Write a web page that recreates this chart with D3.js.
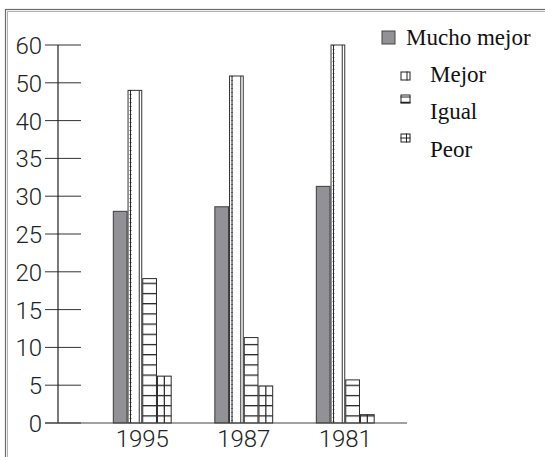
<!DOCTYPE html>
<html>
<head>
<meta charset="utf-8">
<script src="https://cdn.jsdelivr.net/npm/d3@7"></script>
<style>
  body { margin: 0; background: #fff; }
  .tick-lbl { font-family: Roboto, "Liberation Sans", sans-serif; font-weight: 300; font-size: 24px; fill: #222; }
  .leg { font-family: "Liberation Serif", serif; font-size: 23px; fill: #111; }
</style>
</head>
<body>
<div id="chart"></div>
<script>
// values (y axis is not linear: 0..40 by 5, then 50, 60)
var years = ["1995", "1987", "1981"];
var series = ["Mucho mejor", "Mejor", "Igual", "Peor"];
var muchoMejor = [28, 28.6, 31.3];
var mejor = [48, 51.8, 60];
var igual = [19.1, 11.3, 5.7];
var peor = [6.2, 4.9, 1.1];
var yTicks = [0, 5, 10, 15, 20, 25, 30, 35, 40, 50, 60];

var W = 545, H = 457;
var axisX = 58;

var svg = d3.select("#chart").append("svg")
    .attr("width", W).attr("height", H);

var defs = svg.append("defs");

// y scale: every tick value gets the same slot
var yBottom = 423, yTop = 45;
var y = d3.scaleLinear()
    .domain(yTicks)
    .range(yTicks.map(function(d, i) { return yBottom - i * (yBottom - yTop) / (yTicks.length - 1); }));

var x0 = d3.scaleBand().domain(years).range([91.5, 396]).paddingInner(0.42).paddingOuter(0.21);
var x1 = d3.scaleBand().domain(series).range([0, x0.bandwidth()]);

var rows = years.map(function(yr, i) {
  return {year: yr, vals: [muchoMejor[i], mejor[i], igual[i], peor[i]]};
});

// horizontal line hatch, lined up with the baseline
var step = 10.2;
var hp = defs.append("pattern").attr("id", "hlines")
    .attr("patternUnits", "userSpaceOnUse")
    .attr("width", 20).attr("height", step)
    .attr("y", y(0) - 7.7);
hp.append("rect").attr("width", 20).attr("height", step).attr("fill", "#fff");
hp.append("line").attr("x1", 0).attr("x2", 20).attr("y1", 0.6).attr("y2", 0.6)
    .attr("stroke", "#1e1e1e").attr("stroke-width", 1.3);

// frame (double grey line, runs off to right and bottom)
svg.append("rect").attr("x", 5.5).attr("y", 9.5).attr("width", W).attr("height", H)
    .attr("fill", "none").attr("stroke", "#6a6a6a").attr("stroke-width", 1.2);
svg.append("rect").attr("x", 7.5).attr("y", 11.5).attr("width", W).attr("height", H)
    .attr("fill", "none").attr("stroke", "#b0b0b0").attr("stroke-width", 1);

// y axis: ticks
var ax = svg.append("g");
ax.selectAll("line.tk").data(yTicks).enter().append("line")
    .attr("x1", 45).attr("x2", 81)
    .attr("y1", function(d) { return y(d); }).attr("y2", function(d) { return y(d); })
    .attr("stroke", "#333").attr("stroke-width", 1);
ax.selectAll("text").data(yTicks).enter().append("text")
    .attr("class", "tick-lbl")
    .attr("x", 42).attr("y", function(d) { return y(d) + 9; })
    .attr("text-anchor", "end")
    .text(function(d) { return d; });
ax.append("line").attr("x1", axisX).attr("x2", axisX)
    .attr("y1", y(60)).attr("y2", y(0)).attr("stroke", "#222").attr("stroke-width", 1.2);

// bars
var groups = svg.selectAll("g.grp").data(rows).enter().append("g")
    .attr("class", "grp")
    .attr("transform", function(d) { return "translate(" + x0(d.year) + ",0)"; });

groups.each(function(d) {
  var g = d3.select(this);
  series.forEach(function(s, i) {
    var v = d.vals[i], bx = x1(s), bw = x1.bandwidth(), top = y(v), h = y(0) - y(v);
    if (i === 0) {
      g.append("rect").attr("x", bx + 0.5).attr("y", top).attr("width", bw - 1).attr("height", h)
          .attr("fill", "#919196").attr("stroke", "#3c3c3c").attr("stroke-width", 1);
    } else if (i === 1) {
      g.append("rect").attr("x", bx + 0.5).attr("y", top).attr("width", bw - 1).attr("height", h)
          .attr("fill", "#fff").attr("stroke", "#333").attr("stroke-width", 1);
      g.append("line").attr("x1", bx + 3).attr("x2", bx + 3).attr("y1", top).attr("y2", y(0))
          .attr("stroke", "#222").attr("stroke-width", 1);
      g.append("line").attr("x1", bx + 3).attr("x2", bx + 3).attr("y1", top).attr("y2", y(0))
          .attr("stroke", "#222").attr("stroke-width", 2).attr("stroke-dasharray", "0.6 3.4");
      g.append("line").attr("x1", bx + bw - 3).attr("x2", bx + bw - 3).attr("y1", top).attr("y2", y(0))
          .attr("stroke", "#333").attr("stroke-width", 1);
    } else {
      g.append("rect").attr("x", bx + 0.5).attr("y", top).attr("width", bw - 1).attr("height", h)
          .attr("fill", "url(#hlines)").attr("stroke", "#2a2a2a").attr("stroke-width", 1);
      if (i === 3) {
        g.append("line").attr("x1", bx + bw / 2).attr("x2", bx + bw / 2).attr("y1", top).attr("y2", y(0))
            .attr("stroke", "#222").attr("stroke-width", 1.2);
      }
    }
  });
});

// baseline
svg.append("line").attr("x1", 45).attr("x2", 407).attr("y1", y(0)).attr("y2", y(0))
    .attr("stroke", "#444").attr("stroke-width", 1.2);

// x labels
svg.selectAll("text.xl").data(years).enter().append("text")
    .attr("class", "tick-lbl")
    .attr("x", function(d) { return x0(d) + x0.bandwidth() / 2; })
    .attr("y", 447)
    .attr("text-anchor", "middle")
    .text(function(d) { return d; });

// legend
var leg = svg.append("g");
leg.append("rect").attr("x", 382).attr("y", 31).attr("width", 13).attr("height", 13)
    .attr("fill", "#919196").attr("stroke", "#444");
leg.append("text").attr("class", "leg").attr("x", 406).attr("y", 45).text(series[0]);

var icons = [{y: 71.5, k: "v"}, {y: 94.5, k: "h"}, {y: 133.5, k: "hv"}];
var legBase = [81.5, 119, 157];
icons.forEach(function(ic, i) {
  var gx = 400.5, gy = ic.y, w = 9, h = 8;
  leg.append("rect").attr("x", gx + 0.5).attr("y", gy + 0.5).attr("width", w).attr("height", h)
      .attr("fill", "#fff").attr("stroke", "#222").attr("stroke-width", 1);
  if (ic.k === "v") {
    leg.append("line").attr("x1", gx + 6.5).attr("x2", gx + 6.5).attr("y1", gy).attr("y2", gy + h + 1).attr("stroke", "#222");
  } else if (ic.k === "h") {
    leg.append("line").attr("x1", gx).attr("x2", gx + w + 1).attr("y1", gy + 2.5).attr("y2", gy + 2.5).attr("stroke", "#222");
    leg.append("line").attr("x1", gx).attr("x2", gx + w + 1).attr("y1", gy + h).attr("y2", gy + h).attr("stroke", "#222").attr("stroke-width", 1.5);
  } else {
    leg.append("line").attr("x1", gx).attr("x2", gx + w + 1).attr("y1", gy + 4.5).attr("y2", gy + 4.5).attr("stroke", "#222");
    leg.append("line").attr("x1", gx + 6).attr("x2", gx + 6).attr("y1", gy).attr("y2", gy + h + 1).attr("stroke", "#222");
  }
  leg.append("text").attr("class", "leg").attr("x", 430).attr("y", legBase[i]).text(series[i + 1]);
});
</script>
</body>
</html>
